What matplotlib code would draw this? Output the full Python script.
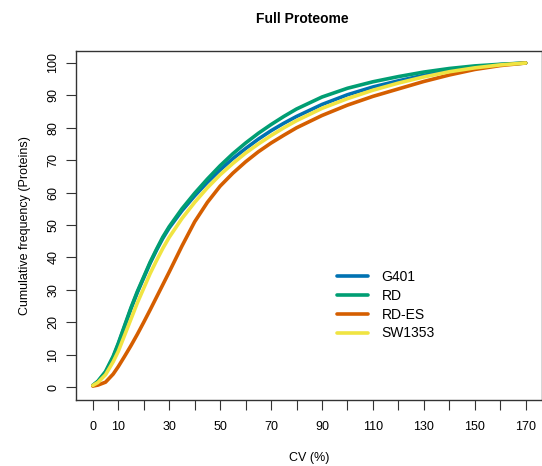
import matplotlib
matplotlib.use("Agg")
import matplotlib.pyplot as plt

plt.rcParams['font.family'] = ['Liberation Sans', 'DejaVu Sans']

# CV (%) grid and cumulative frequency (%) of proteins per cell line
cv = [0, 2, 5, 8, 10, 12.5, 15, 17.5, 20, 22.5, 25, 27.5, 30, 35, 40, 45, 50, 55,
      60, 65, 70, 75, 80, 90, 100, 110, 120, 130, 140, 150, 160, 170]
g401 = [0.5, 1.7, 4.5, 9.2, 13.2, 18.7, 24.2, 29.2, 33.7, 38.2, 42.2, 45.9, 49.1, 54.4, 59, 63.2, 67, 70.5,
        73.6, 76.5, 79.1, 81.4, 83.5, 87.2, 90.2, 92.6, 94.5, 96.2, 97.6, 98.7, 99.5, 100]
rd = [0.5, 1.8, 4.8, 9.5, 13.5, 19, 24.5, 29.5, 34, 38.5, 42.5, 46.3, 49.5, 55, 59.8, 64.2, 68.3, 72,
      75.3, 78.3, 81, 83.5, 85.8, 89.5, 92.2, 94.2, 95.8, 97.2, 98.3, 99.1, 99.6, 100]
rd_es = [0.3, 0.6, 1.5, 4, 6.3, 9.5, 12.8, 16.3, 20, 23.8, 27.7, 31.6, 35.5, 43.5, 51, 57, 62, 66,
         69.5, 72.6, 75.3, 77.7, 80, 83.8, 87, 89.7, 92, 94.3, 96.3, 98, 99.2, 100]
sw1353 = [0.5, 1.4, 3.8, 7.8, 11, 16, 21, 26, 30.5, 35, 39, 42.8, 46.2, 52, 57, 61.5, 65.5, 69,
          72.2, 75, 77.6, 80, 82.2, 86, 89, 91.6, 93.8, 95.7, 97.3, 98.5, 99.4, 100]

series = [("G401", g401, "#0072B2"),
          ("RD", rd, "#009E73"),
          ("RD-ES", rd_es, "#D55E00"),
          ("SW1353", sw1353, "#F0E442")]

fig = plt.figure(figsize=(5.42, 4.66), dpi=100)
ax = fig.add_axes([76/542, 66/466, 466/542, 349/466])

for name, vals, col in series:
    ax.plot(cv, vals, color=col, lw=2.6, label=name, solid_capstyle='round', solid_joinstyle='round')

ax.set_xlim(-6.6, 176.4)
ax.set_ylim(-4, 103.7)
ax.set_xticks(range(0, 171, 10))
ax.set_xticklabels([str(v) if (v == 0 or v % 20 == 10) else '' for v in range(0, 171, 10)])
ax.set_yticks(range(0, 101, 10))
ax.tick_params(axis='both', direction='out', length=7, width=0.8, labelsize=9, color='#333333')
ax.tick_params(axis='x', pad=8)
ax.tick_params(axis='y', pad=5)
for lab in ax.get_yticklabels():
    lab.set_rotation(90)
    lab.set_va('center')
for s in ax.spines.values():
    s.set_color('#333333')
    s.set_linewidth(1)

ax.set_xlabel('CV (%)', fontsize=9, labelpad=14)
ax.set_ylabel('Cumulative frequency (Proteins)', fontsize=9, labelpad=12)
fig.text(302/542, 1 - 19/466, 'Full Proteome', ha='center', va='center', fontsize=10, fontweight='bold')

ax.legend(loc='center', bbox_to_anchor=(0.665, 0.272), frameon=False, fontsize=10,
          handlelength=2.2, handletextpad=1.0, labelspacing=0.35)

fig.savefig('out.png', dpi=100)
